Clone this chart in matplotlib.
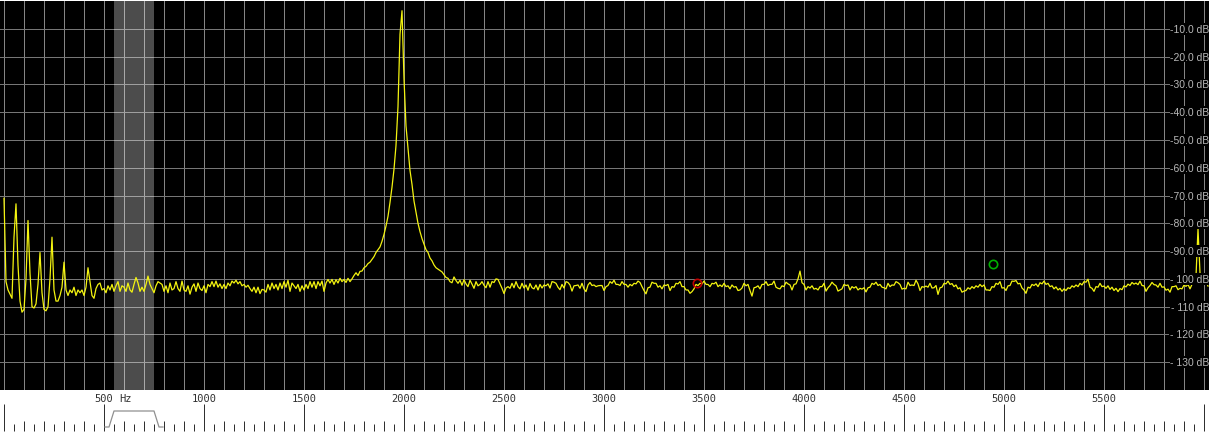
import numpy as np
import matplotlib.pyplot as plt
from matplotlib.transforms import blended_transform_factory

# spectrum trace, one value every 10 Hz from 0 to 6020 Hz (dB)
step_hz = 10
level_db = [
    -71, -101, -104, -105.5, -107, -85, -73, -95, -108, -112,
    -111, -100, -79, -98, -110, -110.5, -109, -102, -90.5, -105,
    -111, -111.5, -110, -100, -85, -104, -108, -108, -106, -103,
    -94, -104, -106, -104, -105, -103, -106, -104, -105, -104,
    -106, -103, -96, -101, -106, -107, -103.5, -102, -101.5, -104,
    -103.5, -105, -102.5, -104, -102, -104.5, -102.5, -101, -104.5, -102.5,
    -103, -104.5, -101.5, -104, -104.8, -102, -99.5, -101.5, -104.5, -103,
    -104.5, -102, -99, -102, -103.5, -105, -102.5, -101, -101.5, -102,
    -104.5, -102.5, -105, -101.5, -104, -103.5, -101, -103.5, -104.5, -100.8,
    -104, -104.5, -102.5, -105.5, -103, -101.8, -104.5, -101.5, -103.5, -104.2,
    -102.5, -105, -102, -102.8, -101, -102.8, -100.8, -103, -101.8, -103.5,
    -102, -103.5, -101.5, -102.5, -100.8, -101.5, -100.5, -101.8, -101, -102.5,
    -102, -103, -102.3, -103.5, -104.5, -103, -105, -103, -105.3, -103.8,
    -104, -104.8, -102, -104, -101.5, -103.5, -102, -104, -101.5, -103.5,
    -101, -103, -100.5, -104.5, -101.5, -102.5, -103.5, -102, -104.5, -102.5,
    -104, -102, -103.5, -101, -103, -101, -103.5, -101, -102.5, -100.8,
    -104.5, -101.5, -100.2, -101.5, -100.2, -102, -100.3, -101.5, -99.8, -101,
    -100.2, -101.3, -99.8, -101, -100, -98.8, -97.8, -98.8, -97.3, -97.2,
    -96, -95.5, -94.5, -94, -93, -92, -90.5, -89.5, -88.5, -86.5,
    -84, -81, -77.5, -72.5, -67, -60.5, -52, -38, -12, -3.5,
    -28, -45, -53, -61, -66, -72, -76, -80, -83, -85.5,
    -87.5, -89.5, -90.5, -92.5, -93.5, -95, -96, -96.5, -97, -97.5,
    -98.5, -99.5, -99.8, -101, -101.4, -99.3, -100.6, -101.6, -100.5, -102.3,
    -100.3, -101.8, -102.8, -100.5, -101.9, -103.4, -101, -102.5, -102, -101,
    -102.3, -103.2, -101, -103, -101, -101.3, -100, -100.2, -101.8, -103.4,
    -105.3, -103.3, -102.8, -103.4, -101.6, -103.2, -101, -102.8, -103.6, -101.6,
    -103.3, -102.2, -104.1, -101.7, -103.2, -103.6, -102.2, -104, -102, -103.3,
    -102.2, -102.5, -101.8, -103.3, -101, -101.2, -101.6, -103, -103.9, -102,
    -103.3, -101, -101.3, -102.2, -104.4, -102.5, -102.4, -102.2, -103.4, -101.6,
    -103.6, -104.6, -102.2, -101.3, -102.4, -102.2, -102.8, -102.5, -102.4, -102.4,
    -104.2, -102.8, -102.4, -101, -101.6, -100.5, -102, -102, -102.4, -101,
    -102, -102, -103, -102, -102.5, -101.6, -101.8, -100.8, -101.3, -102.8,
    -104.2, -105.4, -103.2, -103, -101.2, -101.6, -101.6, -103, -102.5, -103.6,
    -102.2, -102.4, -102, -104.2, -102.8, -103, -101.6, -101.8, -101, -102.8,
    -102.8, -104, -104, -105.2, -104.6, -103.6, -102, -102.4, -101.6, -101.8,
    -100.8, -102, -102, -102.8, -101.6, -101.8, -101.2, -102.8, -102.2, -102.8,
    -101.6, -102.8, -102.5, -103.6, -102.2, -103, -102.8, -104.2, -104, -103.3,
    -101.6, -102.5, -102, -104.2, -106.2, -103.2, -103, -102.5, -103.6, -102,
    -102, -101, -102.4, -102, -102, -100.8, -103, -103.4, -103.6, -102.5,
    -102.8, -101.2, -101.8, -102.2, -104, -102, -101.8, -100, -97.2, -101.4,
    -102, -104, -102.8, -103.3, -102.5, -103.7, -103.4, -104, -102.8, -102.8,
    -101.6, -104.4, -103.2, -102.4, -101.2, -102, -102.5, -104.4, -104, -103.6,
    -102, -102.4, -102.2, -104, -102.8, -103.3, -102.8, -104, -103.4, -103.7,
    -103.2, -104.7, -103.2, -103, -101.6, -102, -101.2, -102.4, -102, -103,
    -103.2, -103.6, -101.6, -102.8, -102.2, -102.3, -101, -101.4, -102, -103.7,
    -103.4, -103.6, -101.2, -102.4, -102.2, -102.4, -100.5, -101.8, -104.2, -102.8,
    -103, -102.6, -103, -101.6, -103.3, -103.2, -102.4, -105.6, -103.2, -103,
    -101.6, -101.8, -100.8, -102, -101.7, -102.8, -102.2, -103.6, -103.2, -104.8,
    -104.4, -104.2, -103.2, -103.7, -102.8, -103.4, -102.5, -103, -102, -102.8,
    -102.2, -104, -104, -104.2, -102.8, -103, -101.6, -102, -101, -103.3,
    -103.2, -104.2, -102.5, -102.4, -100.8, -100.9, -100.6, -101.8, -101.6, -103.3,
    -104, -105.2, -103, -103.3, -102, -102.4, -101.8, -102.8, -101.4, -101.8,
    -100.8, -102, -101.6, -102.8, -102.5, -103.6, -102.9, -104, -103.4, -104.5,
    -103.6, -104.2, -103.2, -103.5, -102.5, -103, -102.2, -102.8, -101.6, -102.2,
    -101, -101.2, -100.1, -103, -103.4, -104.5, -102.8, -103, -101.6, -102.8,
    -102.6, -103.4, -102.5, -103.8, -103, -104.2, -103.4, -104.6, -103.5, -103.9,
    -102.5, -102.9, -101.9, -102.4, -101.3, -101.9, -101.5, -102.1, -100.8, -102.4,
    -102.5, -104.5, -103.2, -102.4, -101.3, -102.1, -102.2, -103, -101.6, -103,
    -102.9, -104.1, -103.7, -104.8, -102.8, -102.8, -102.5, -103.9, -103.4, -103.6,
    -102.2, -102.7, -102, -103.6, -102, -101.8, -99, -82, -97.8, -101.4,
    -102, -100.8, -102.6,
]

# markers
red_marker = (3465, -101.4)
green_marker = (4945, -94.8)

# receive filter passband
filter_low_hz = 550
filter_high_hz = 750

db_ticks = [-10, -20, -30, -40, -50, -60, -70, -80, -90, -100, -110, -120, -130]
db_labels = ['-10.0 dB', '-20.0 dB', '-30.0 dB', '-40.0 dB', '-50.0 dB', '-60.0 dB',
             '-70.0 dB', '-80.0 dB', '-90.0 dB', '- 100 dB', '- 110 dB', '- 120 dB',
             '- 130 dB']
freq_labels = [500, 1000, 1500, 2000, 2500, 3000, 3500, 4000, 4500, 5000, 5500]

freqs = np.arange(len(level_db)) * step_hz

W, H = 1209, 435
fig = plt.figure(figsize=(W / 100, H / 100), dpi=100, facecolor='white')

f_min, f_max = -20, 6025

# main spectrum area
ax = fig.add_axes([0, 44 / H, 1, 389 / H])
ax.set_facecolor('black')
ax.set_xlim(f_min, f_max)
ax.set_ylim(-140, 0)
for s in ax.spines.values():
    s.set_visible(False)
ax.set_xticks([])
ax.set_yticks([])

for f in range(0, 6001, 100):
    ax.axvline(f, color='#858585', lw=0.72, zorder=1)
for d in db_ticks:
    ax.axhline(d, color='#767676', lw=0.72, zorder=1)

ax.axvspan(filter_low_hz, filter_high_hz, color='white', alpha=0.3, lw=0, zorder=2)

ax.plot(freqs, level_db, color='#f4f410', lw=0.9, zorder=3)

ax.plot(*red_marker, 'o', ms=6, mfc='none', mec='#c00000', mew=1.2, zorder=4)
ax.plot(*green_marker, 'o', ms=6, mfc='none', mec='#00b000', mew=1.2, zorder=4)

trans = blended_transform_factory(ax.transAxes, ax.transData)
for d, lab in zip(db_ticks, db_labels):
    ax.text(1.0005, d, lab, transform=trans, ha='right', va='center',
            fontsize=7.5, color='#b8b8b8', family='Liberation Sans', zorder=5,
            bbox=dict(facecolor='black', edgecolor='none', pad=0.6))

# frequency scale strip
sc = fig.add_axes([0, 0, 1, 44 / H])
sc.set_xlim(f_min, f_max)
sc.set_ylim(435, 391)
sc.axis('off')

major = np.arange(0, 6001, 500)
sc.vlines(major, 405, 432, color='#303030', lw=0.72)
minor100 = [f for f in range(100, 6001, 100) if f % 500]
sc.vlines(minor100, 422, 432, color='#303030', lw=0.72)
minor50 = np.arange(50, 6001, 100)
sc.vlines(minor50, 424.5, 432, color='#303030', lw=0.72)

for f in freq_labels:
    sc.text(f, 399, str(f), ha='center', va='center', fontsize=7.5,
            family='DejaVu Sans Mono', color='#303030')
sc.text(freq_labels[0] + 75, 399, 'Hz', ha='left', va='center', fontsize=7.5,
        family='DejaVu Sans Mono', color='#303030')

skirt = 25
tail = 20
shape_x = [filter_low_hz - skirt - tail, filter_low_hz - skirt, filter_low_hz,
           filter_high_hz, filter_high_hz + skirt, filter_high_hz + skirt + tail]
shape_y = [428, 428, 412, 412, 428, 428]
sc.plot(shape_x, shape_y, color='#909090', lw=0.9)

fig.savefig('out.png', dpi=100, facecolor='white')
